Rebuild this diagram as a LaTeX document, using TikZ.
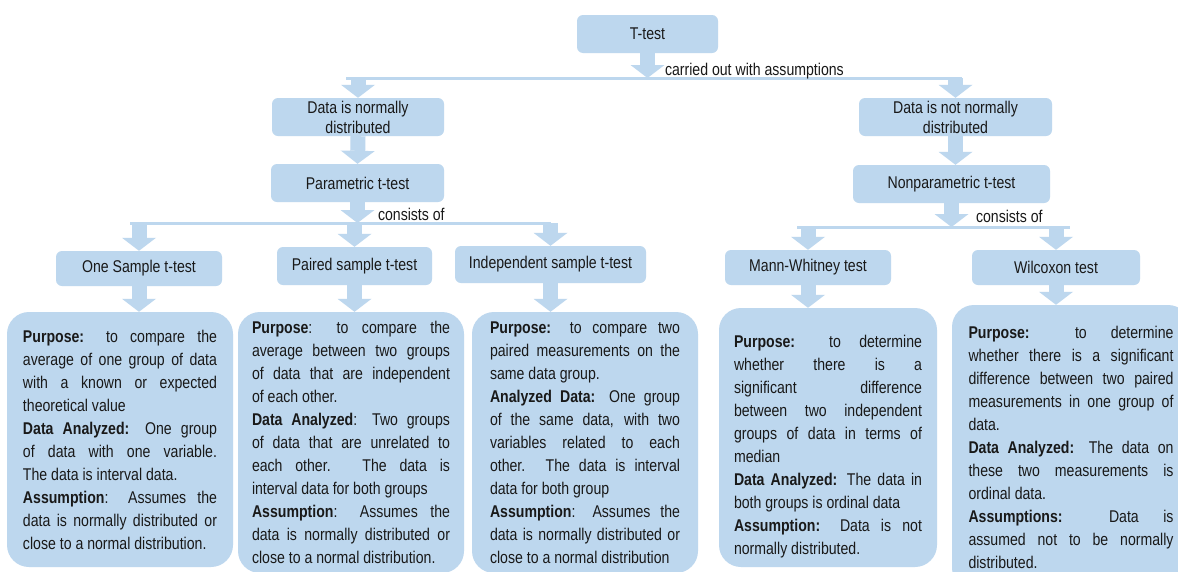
\documentclass[tikz,border=0pt]{standalone}
\usepackage{fontspec}
\setmainfont{Liberation Sans}[FakeStretch=0.83]
\usetikzlibrary{arrows.meta}
\definecolor{boxblue}{RGB}{189,215,238}
\definecolor{inkgray}{RGB}{25,25,25}
\tolerance=10000
\hbadness=10000
\hyphenpenalty=10000

\begin{document}
\begin{tikzpicture}[x=1pt, y=-1pt,
    hdr/.style={fill=boxblue, rounded corners=6pt, text=inkgray, align=center, inner sep=0pt,
        font=\fontsize{17}{20}\selectfont},
    detail/.style={fill=boxblue, rounded corners=22pt, text=inkgray, align=justify, inner sep=0pt,
        font=\fontsize{17}{23}\selectfont},
    blockarrow/.style={draw=boxblue, line width=15pt, -{Triangle[width=34pt, length=13pt, line width=0pt]}},
    branch/.style={draw=boxblue, line width=3pt},
    lbl/.style={text=inkgray, font=\fontsize{17}{20}\selectfont, inner sep=1pt, anchor=west}]
    \path[fill=white, use as bounding box] (0,0) rectangle (1178,571);

    % top levels
    \node[hdr, minimum width=141pt, minimum height=38pt] (ttest) at (647.5,34) {T-test};
    \node[hdr, minimum width=172pt, minimum height=38pt] (normal) at (358,117) {Data is normally\\distributed};
    \node[hdr, minimum width=193pt, minimum height=38pt] (notnormal) at (955.5,117) {Data is not normally\\distributed};
    \node[hdr, minimum width=173pt, minimum height=38pt] (param) at (357.5,183) {Parametric t-test};
    \node[hdr, minimum width=197pt, minimum height=38pt] (nonparam) at (951.5,184) {Nonparametric t-test};

    % tests
    \node[hdr, minimum width=166pt, minimum height=35pt] (onesample) at (139,268.5) {One Sample t-test};
    \node[hdr, minimum width=155pt, minimum height=38pt] (paired) at (354.5,266) {Paired sample t-test};
    \node[hdr, minimum width=191pt, minimum height=37pt] (indep) at (550.5,264.5) {Independent sample t-test};
    \node[hdr, minimum width=166pt, minimum height=35pt] (mann) at (808,267.5) {Mann-Whitney test};
    \node[hdr, minimum width=168pt, minimum height=35pt] (wilcox) at (1056,267.5) {Wilcoxon test};

    % descriptions
    \node[detail, text width=194pt, minimum width=226pt, minimum height=255pt] (onedetail) at (120,439.5) {%
        \textbf{Purpose:} to compare the\linebreak average of one group of data\linebreak with a known or expected\linebreak theoretical value\par
        \textbf{Data Analyzed:} One group\linebreak of data with one variable.\linebreak The data is interval data.\par
        \textbf{Assumption}: Assumes the\linebreak data is normally distributed or\linebreak close to a normal distribution.};
    \node[detail, text width=198pt, minimum width=226pt, minimum height=261pt] (paireddetail) at (351,442.5) {%
        \textbf{Purpose}: to compare the\linebreak average between two groups\linebreak of data that are independent\linebreak of each other.\par
        \textbf{Data Analyzed}: Two groups\linebreak of data that are unrelated to\linebreak each other. The data is\linebreak interval data for both groups\par
        \textbf{Assumption}: Assumes the\linebreak data is normally distributed or\linebreak close to a normal distribution.};
    \node[detail, text width=190pt, minimum width=226pt, minimum height=261pt] (indepdetail) at (585,442.5) {%
        \textbf{Purpose:} to compare two\linebreak paired measurements on the\linebreak same data group.\par
        \textbf{Analyzed Data:} One group\linebreak of the same data, with two\linebreak variables related to each\linebreak other. The data is interval\linebreak data for both group\par
        \textbf{Assumption}: Assumes the\linebreak data is normally distributed or\linebreak close to a normal distribution};
    \node[detail, text width=188pt, minimum width=218pt, minimum height=259pt] (manndetail) at (828,437.5) {%
        \rule{0pt}{30pt}\textbf{Purpose:} to determine\linebreak whether there is a\linebreak significant difference\linebreak between two independent\linebreak groups of data in terms of\linebreak median\par
        \textbf{Data Analyzed:} The data in\linebreak both groups is ordinal data\par
        \textbf{Assumption:} Data is not\linebreak normally distributed.};
    \node[detail, text width=205pt, minimum width=238pt, minimum height=285pt] (wilcoxdetail) at (1071,447.5) {%
        \textbf{Purpose:} to determine\linebreak whether there is a significant\linebreak difference between two paired\linebreak measurements in one group of\linebreak data.\par
        \textbf{Data Analyzed:} The data on\linebreak these two measurements is\linebreak ordinal data.\par
        \textbf{Assumptions:} Data is\linebreak assumed not to be normally\linebreak distributed.};

    \coordinate (fork1) at (647.5,78);
    \coordinate (fork2) at (357.5,223);
    \coordinate (fork3) at (951.5,227);

    % branch lines
    \draw[branch, shorten <=-12pt, shorten >=-6pt] (normal.north |- fork1) -- (notnormal.north |- fork1);
    \draw[branch, shorten <=-9pt] (onesample.north |- fork2) -- (indep.north |- fork2);
    \draw[branch, shorten <=-11pt, shorten >=-14pt] (mann.north |- fork3) -- (wilcox.north |- fork3);

    % arrows
    \draw[blockarrow] (ttest.south) -- node[lbl, pos=0.72, xshift=9pt] (carried) {carried out with assumptions} (fork1);
    \draw[blockarrow] (normal.north |- fork1) -- (normal.north);
    \draw[blockarrow] (notnormal.north |- fork1) -- (notnormal.north);
    \draw[blockarrow] (normal.south) -- (param.north);
    \draw[blockarrow] (notnormal.south) -- (notnormal.south |- nonparam.north);
    \draw[blockarrow] (param.south) -- node[lbl, pos=0.6, xshift=12pt] (consistsp) {consists of} (fork2);
    \draw[blockarrow] (nonparam.south) -- node[lbl, pos=0.55, xshift=16pt] (consistsn) {consists of} (fork3);
    \foreach \t in {onesample, paired, indep}
        \draw[blockarrow] (\t.north |- fork2) -- (\t.north);
    \foreach \t in {mann, wilcox}
        \draw[blockarrow] (\t.north |- fork3) -- (\t.north);
    \draw[blockarrow] (onesample.south) -- (onesample.south |- onedetail.north);
    \draw[blockarrow] (paired.south) -- (paired.south |- paireddetail.north);
    \draw[blockarrow] (indep.south) -- (indep.south |- indepdetail.north);
    \draw[blockarrow] (mann.south) -- (mann.south |- manndetail.north);
    \draw[blockarrow] (wilcox.south) -- (wilcox.south |- wilcoxdetail.north);
\end{tikzpicture}
\end{document}
